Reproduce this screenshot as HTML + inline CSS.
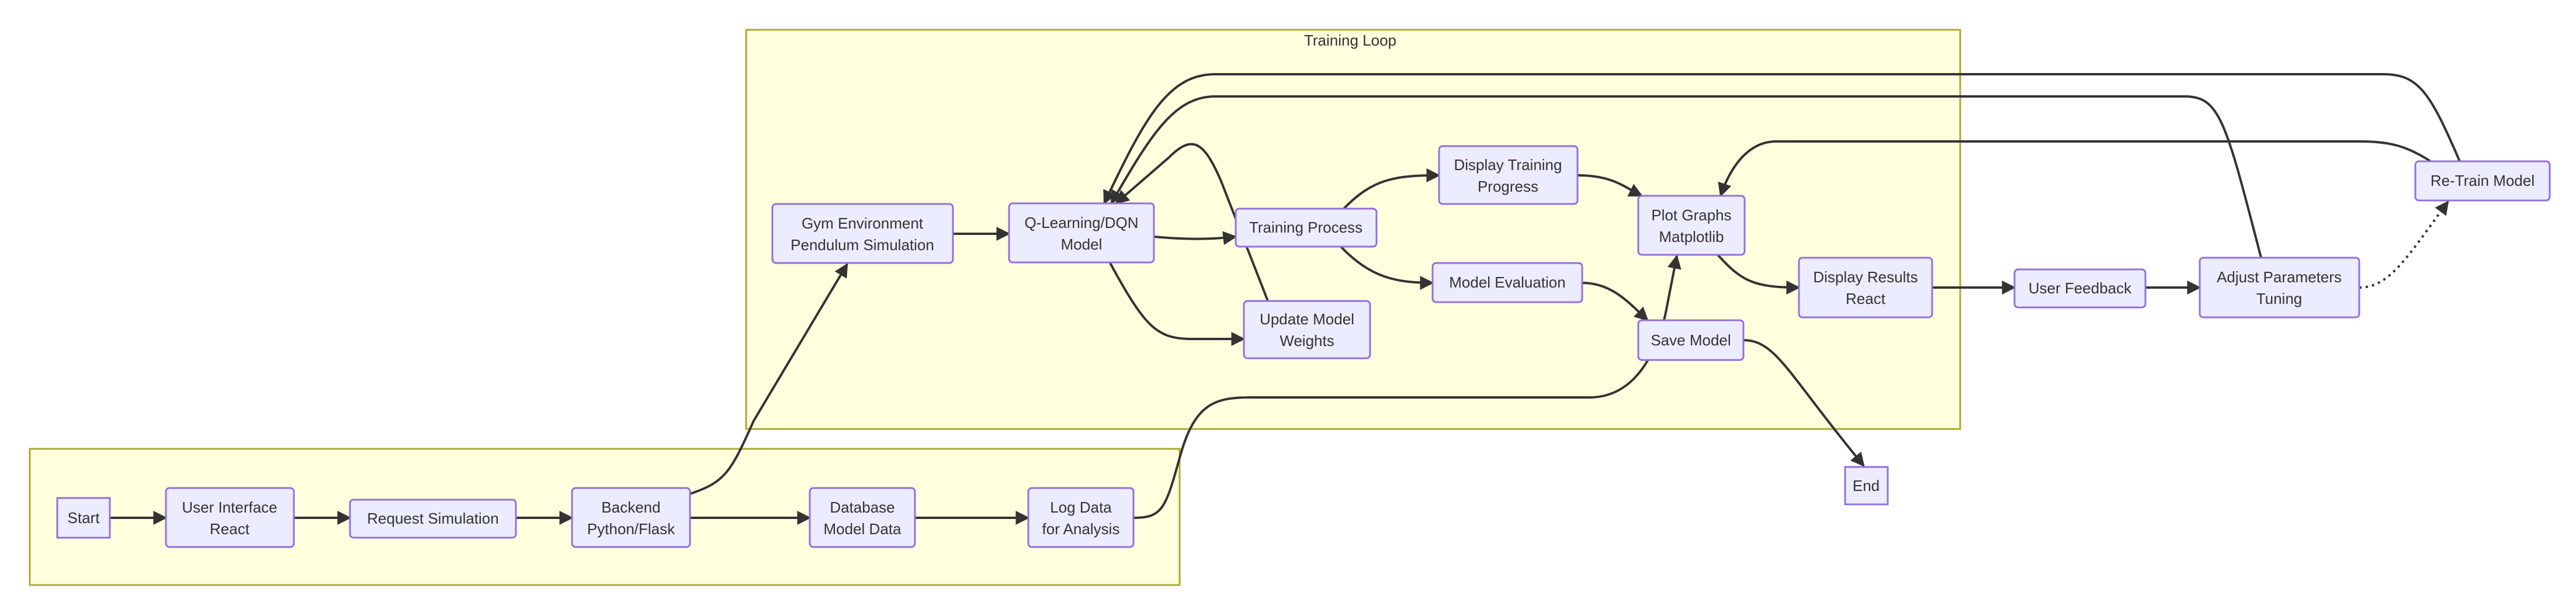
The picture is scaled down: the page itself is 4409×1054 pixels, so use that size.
<!DOCTYPE html>
<html><head><meta charset="utf-8"><style>
html,body{margin:0;padding:0;background:#fff;}
svg{display:block;}
text{font-family:"Liberation Sans",sans-serif;font-size:26px;fill:#333;text-anchor:middle;}
.n{fill:#ECECFF;stroke:#9370DB;stroke-width:3;}
.c{fill:#ffffde;stroke:#aaaa33;stroke-width:3;}
.e{fill:none;stroke:#333;stroke-width:4;}
</style></head><body>
<svg width="4409" height="1054" viewBox="0 0 4409 1054" xmlns="http://www.w3.org/2000/svg">
<defs>
<marker id="a" viewBox="0 0 10 10" refX="9" refY="5" markerWidth="6" markerHeight="6" markerUnits="strokeWidth" orient="auto"><path d="M0,0 L10,5 L0,10 z" fill="#333"/></marker>
</defs>
<rect class="c" x="51" y="768" width="1968" height="233"/>
<rect class="c" x="1277" y="51" width="2078" height="683"/>
<text x="2311" y="78">Training Loop</text>

<g class="e" marker-end="url(#a)">
<path d="M188,886 L284,886"/>
<path d="M503,886 L599,886"/>
<path d="M883,886 L979,886"/>
<path d="M1181,886 L1386,886"/>
<path d="M1566,886 L1760,886"/>
<path d="M1181,845 C1240,825 1250,810 1290,720 L1450,452"/>
<path d="M1940,886 C1990,886 1995,870 2020,780 C2045,690 2080,680 2140,680 L2720,680 C2790,680 2830,620 2850,540 L2870,438"/>
<path d="M1631,400 L1727,400"/>
<path d="M1975,405 C2030,410 2070,410 2115,405"/>
<path d="M1900,450 C1960,560 1980,580 2040,580 L2129,580"/>
<path d="M2170,515 L2090,310 C2060,240 2040,230 2000,270 L1910,348"/>
<path d="M2300,357 C2350,305 2390,300 2463,300"/>
<path d="M2295,422 C2345,475 2390,484 2452,484"/>
<path d="M2700,300 C2760,300 2780,320 2810,335"/>
<path d="M2708,484 C2760,484 2790,520 2820,548"/>
<path d="M2940,436 C2980,480 3000,492 3079,492"/>
<path d="M3307,492 L3448,492"/>
<path d="M3672,492 L3765,492"/>
<path d="M4038,492 C4090,492 4120,440 4190,345" stroke-dasharray="4,7"/>
<path d="M4210,276 C4160,160 4140,127 4080,127 L2080,127 C2000,127 1960,200 1890,348"/>
<path d="M3870,441 C3810,210 3800,165 3740,165 L2080,165 C2010,165 1970,230 1902,348"/>
<path d="M4160,276 C4120,250 4090,242 4040,242 L3040,242 C2990,242 2960,290 2945,335"/>
<path d="M2984,582 C3040,582 3060,640 3190,797"/>
</g>

<g>
<rect class="n" x="98" y="852" width="90" height="68"/><text x="143" y="895">Start</text>
<rect class="n" x="284" y="835" width="219" height="101" rx="6"/><text x="393" y="877">User Interface</text><text x="393" y="914">React</text>
<rect class="n" x="599" y="855" width="284" height="65" rx="6"/><text x="741" y="896">Request Simulation</text>
<rect class="n" x="979" y="835" width="202" height="101" rx="6"/><text x="1080" y="877">Backend</text><text x="1080" y="914">Python/Flask</text>
<rect class="n" x="1386" y="835" width="180" height="101" rx="6"/><text x="1476" y="877">Database</text><text x="1476" y="914">Model Data</text>
<rect class="n" x="1760" y="835" width="180" height="101" rx="6"/><text x="1850" y="877">Log Data</text><text x="1850" y="914">for Analysis</text>
<rect class="n" x="1322" y="349" width="309" height="101" rx="6"/><text x="1476" y="391">Gym Environment</text><text x="1476" y="428">Pendulum Simulation</text>
<rect class="n" x="1727" y="348" width="248" height="101" rx="6"/><text x="1851" y="390">Q-Learning/DQN</text><text x="1851" y="427">Model</text>
<rect class="n" x="2115" y="357" width="241" height="65" rx="6"/><text x="2235" y="398">Training Process</text>
<rect class="n" x="2129" y="515" width="216" height="98" rx="6"/><text x="2237" y="555">Update Model</text><text x="2237" y="592">Weights</text>
<rect class="n" x="2463" y="250" width="237" height="99" rx="6"/><text x="2581" y="291">Display Training</text><text x="2581" y="328">Progress</text>
<rect class="n" x="2452" y="450" width="256" height="67" rx="6"/><text x="2580" y="492">Model Evaluation</text>
<rect class="n" x="2804" y="335" width="182" height="101" rx="6"/><text x="2895" y="377">Plot Graphs</text><text x="2895" y="414">Matplotlib</text>
<rect class="n" x="2804" y="548" width="180" height="68" rx="6"/><text x="2894" y="591">Save Model</text>
<rect class="n" x="3079" y="441" width="228" height="102" rx="6"/><text x="3193" y="483">Display Results</text><text x="3193" y="520">React</text>
<rect class="n" x="3448" y="461" width="224" height="65" rx="6"/><text x="3560" y="502">User Feedback</text>
<rect class="n" x="3765" y="441" width="273" height="102" rx="6"/><text x="3901" y="483">Adjust Parameters</text><text x="3901" y="520">Tuning</text>
<rect class="n" x="4134" y="276" width="230" height="67" rx="6"/><text x="4249" y="318">Re-Train Model</text>
<rect class="n" x="3158" y="799" width="73" height="64"/><text x="3194" y="840">End</text>
</g>
</svg>
</body></html>
